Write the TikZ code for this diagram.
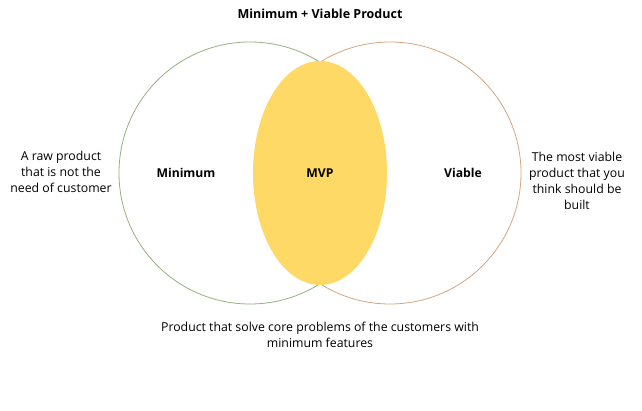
\documentclass[tikz,border=0pt]{standalone}
\usepackage{fontspec}
\setmainfont{Open Sans}
\usepackage{tikz}
\usetikzlibrary{shapes.geometric, positioning}

\definecolor{mingreen}{RGB}{150,176,128}
\definecolor{viabletan}{RGB}{212,165,128}
\definecolor{mvpyellow}{RGB}{255,217,102}

\begin{document}
\begin{tikzpicture}[x=1pt, y=-1pt,
  set/.style={draw, circle, line width=0.8pt, minimum size=262pt, inner sep=0pt},
  label/.style={font=\fontsize{12.3}{16}\selectfont, align=center},
  head/.style={font=\fontsize{12.2}{16}\selectfont\bfseries}]
\useasboundingbox (0,0) rectangle (642,411);
% Title
\node[head, font=\fontsize{12.5}{16}\selectfont\bfseries] (title) at (320,14) {Minimum + Viable Product};

% Two sets and their overlap
\node[set, draw=mingreen] (minset) at (250,173) {};
\node[set, draw=viabletan] (viaset) at (390,173) {};
\node[ellipse, fill=mvpyellow, minimum width=134pt, minimum height=224pt, inner sep=0pt] (mvp) at (320,173) {};

% Set names
\node[head] (minname) at (186,173) {Minimum};
\node[head] (mvpname) at (320,173) {MVP};
\node[head] (vianame) at (463,173) {Viable};

% Descriptions
\node[label] (mindesc) at (61,172) {A raw product\\that is not the\\need of customer};
\node[label] (viadesc) at (577,181) {The most viable\\product that you\\think should be\\built};
\node[label] (mvpdesc) at (320,335) {Product that solve core problems of the customers with\\minimum features};
\end{tikzpicture}
\end{document}
